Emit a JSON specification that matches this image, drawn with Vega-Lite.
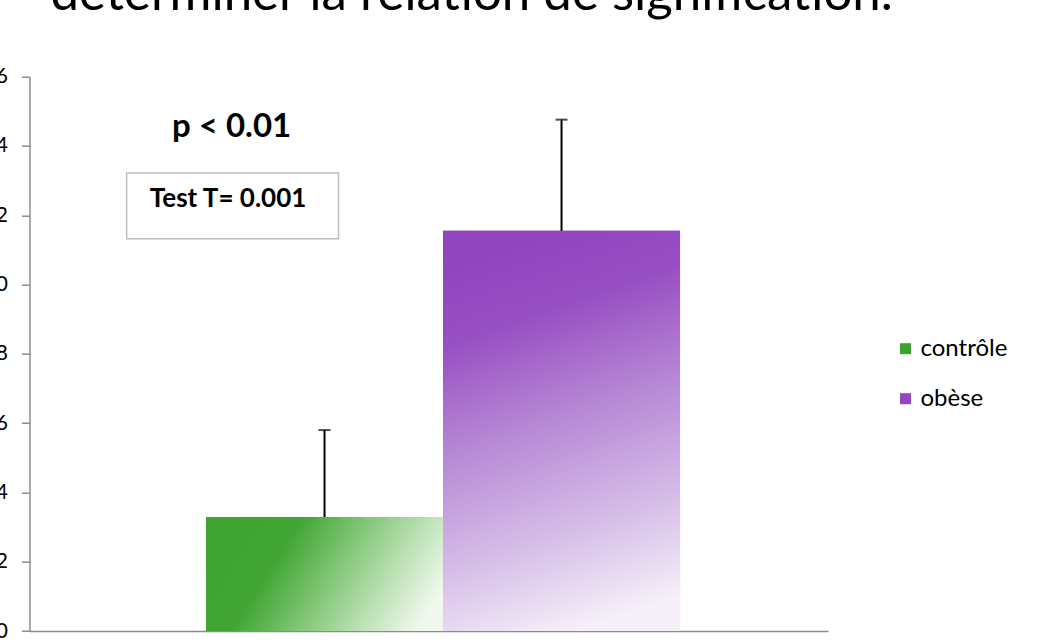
{
  "$schema": "https://vega.github.io/schema/vega-lite/v6.json",
  "width": 798.5,
  "height": 554.3,
  "autosize": {"type": "none"},
  "padding": {"left": 29.5, "top": 76.7, "right": 222, "bottom": 12},
  "background": "white",
  "config": {"view": {"stroke": null}, "font": "Lato"},
  "title": {
    "text": "déterminer la relation de signification.",
    "anchor": "start",
    "frame": "group",
    "font": "Lato",
    "fontSize": 51,
    "fontWeight": "normal",
    "color": "#000000",
    "baseline": "bottom",
    "offset": 0,
    "dy": 6,
    "dx": 21
  },
  "datasets": {
    "groupes": [
      {"groupe": "contrôle", "moyenne": 3.29, "haut": 5.80},
      {"groupe": "obèse", "moyenne": 11.55, "haut": 14.76}
    ],
    "notes": [
      {"groupe": "contrôle", "titre": "p < 0.01", "test": "Test T= 0.001"}
    ]
  },
  "layer": [
    {
      "data": {"name": "groupes"},
      "mark": {"type": "bar"},
      "encoding": {
        "x": {
          "field": "groupe",
          "type": "nominal",
          "scale": {"domain": ["contrôle", "obèse"], "paddingInner": 0, "paddingOuter": 0.6846, "align": 0.544},
          "axis": {"title": null, "labels": false, "ticks": false, "domainColor": "#8c8c8c", "domainWidth": 1.5}
        },
        "y": {
          "field": "moyenne",
          "type": "quantitative",
          "scale": {"domain": [0, 16], "nice": false},
          "axis": {
            "title": null,
            "grid": false,
            "values": [0, 2, 4, 6, 8, 10, 12, 14, 16],
            "tickSize": 8,
            "tickColor": "#8c8c8c",
            "tickWidth": 1.5,
            "domainColor": "#8c8c8c",
            "domainWidth": 1.5,
            "labelFont": "Lato",
            "labelFontSize": 21,
            "labelColor": "#000000",
            "labelPadding": 14
          }
        },
        "color": {
          "field": "groupe",
          "type": "nominal",
          "scale": {"domain": ["contrôle", "obèse"], "range": ["#3da330", "#9146bf"]},
          "legend": {
            "title": " ",
            "titleFontSize": 1,
            "titlePadding": 259,
            "orient": "right",
            "offset": 65,
            "padding": 0,
            "symbolType": "square",
            "symbolSize": 121,
            "symbolStrokeWidth": 0,
            "labelFont": "Lato",
            "labelFontSize": 24,
            "labelColor": "#000000",
            "labelOffset": 3,
            "rowPadding": 26
          }
        }
      }
    },
    {
      "data": {"name": "groupes"},
      "transform": [{"filter": "datum.groupe === 'contrôle'"}],
      "mark": {
        "type": "bar",
        "color": {
          "gradient": "linear",
          "x1": 0, "y1": 0.35, "x2": 1, "y2": 0.65,
          "stops": [
            {"offset": 0, "color": "#3fa332"},
            {"offset": 0.28, "color": "#42a635"},
            {"offset": 0.55, "color": "#86c87b"},
            {"offset": 0.8, "color": "#c4e4bd"},
            {"offset": 1, "color": "#f1f9ef"}
          ]
        }
      },
      "encoding": {
        "x": {"field": "groupe", "type": "nominal"},
        "y": {"field": "moyenne", "type": "quantitative"}
      }
    },
    {
      "data": {"name": "groupes"},
      "transform": [{"filter": "datum.groupe === 'obèse'"}],
      "mark": {
        "type": "bar",
        "color": {
          "gradient": "linear",
          "x1": 0.4, "y1": 0, "x2": 0.6, "y2": 1,
          "stops": [
            {"offset": 0, "color": "#9045bf"},
            {"offset": 0.2, "color": "#984fc3"},
            {"offset": 0.45, "color": "#b585d4"},
            {"offset": 0.75, "color": "#d6bde8"},
            {"offset": 1, "color": "#f6f1f9"}
          ]
        }
      },
      "encoding": {
        "x": {"field": "groupe", "type": "nominal"},
        "y": {"field": "moyenne", "type": "quantitative"}
      }
    },
    {
      "data": {"name": "groupes"},
      "mark": {"type": "rule", "color": "#000000", "strokeWidth": 2},
      "encoding": {
        "x": {"field": "groupe", "type": "nominal"},
        "y": {"field": "moyenne", "type": "quantitative"},
        "y2": {"field": "haut"}
      }
    },
    {
      "data": {"name": "groupes"},
      "mark": {"type": "tick", "color": "#000000", "size": 12, "thickness": 2},
      "encoding": {
        "x": {"field": "groupe", "type": "nominal"},
        "y": {"field": "haut", "type": "quantitative"}
      }
    },
    {
      "data": {"name": "notes"},
      "mark": {"type": "rect", "fill": "#ffffff", "stroke": "#bfbfbf", "strokeWidth": 1.5},
      "encoding": {
        "x": {"field": "groupe", "type": "nominal", "bandPosition": -0.335},
        "x2": {"field": "groupe", "bandPosition": 0.559},
        "y": {"datum": 11.32},
        "y2": {"datum": 13.22}
      }
    },
    {
      "data": {"name": "notes"},
      "mark": {"type": "text", "font": "Lato", "fontWeight": "bold", "fontSize": 26, "baseline": "alphabetic", "align": "center", "color": "#000000"},
      "encoding": {
        "x": {"field": "groupe", "type": "nominal", "bandPosition": 0.093},
        "y": {"datum": 12.24},
        "text": {"field": "test"}
      }
    },
    {
      "data": {"name": "notes"},
      "mark": {"type": "text", "font": "Lato", "fontWeight": "bold", "fontSize": 33, "baseline": "alphabetic", "align": "center", "color": "#000000"},
      "encoding": {
        "x": {"field": "groupe", "type": "nominal", "bandPosition": 0.108},
        "y": {"datum": 14.25},
        "text": {"field": "titre"}
      }
    }
  ]
}
